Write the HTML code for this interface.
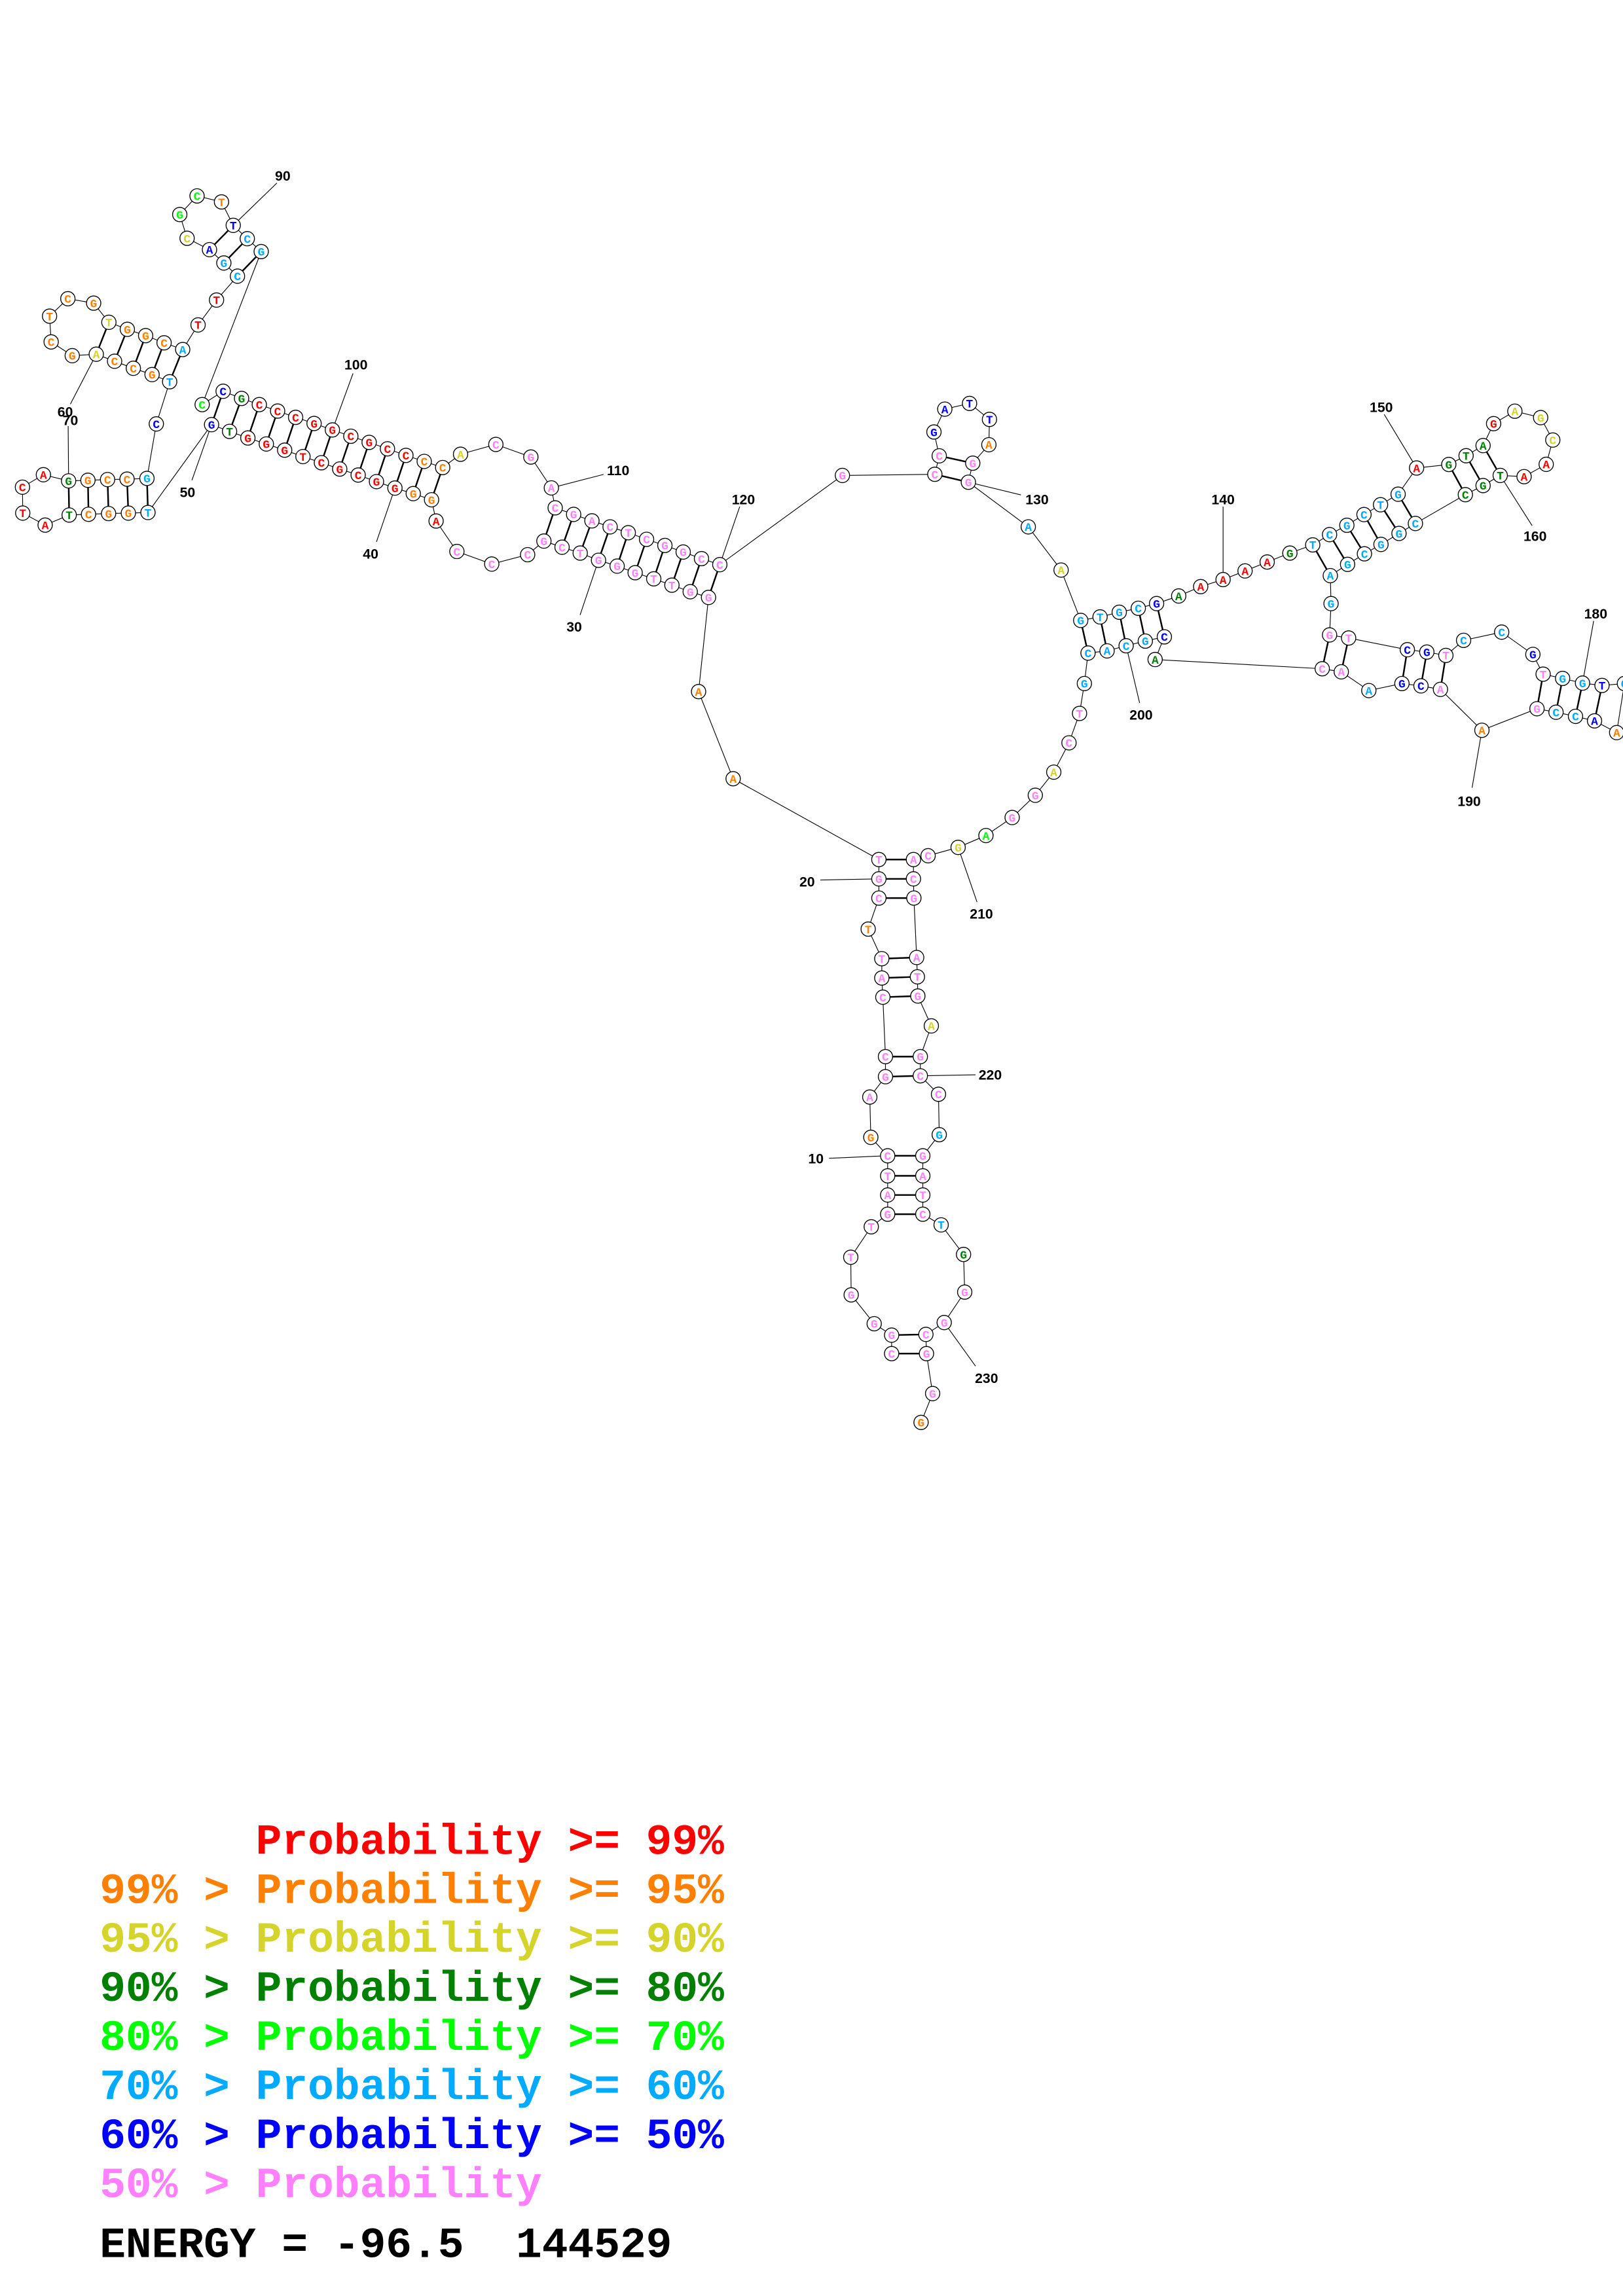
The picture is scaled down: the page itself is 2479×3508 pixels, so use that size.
<!DOCTYPE html>
<html><head><meta charset="utf-8">
<style>
html,body{margin:0;padding:0;background:#fff;}
svg{display:block;}
.lg{font-family:"Liberation Mono",monospace;font-weight:bold;font-size:29.6px;white-space:pre;}
</style></head>
<body>
<svg id="s" xmlns="http://www.w3.org/2000/svg" width="2479" height="3508" viewBox="0 0 1108 1568">
<g id="lines"></g>
<g id="pairs"></g>
<g id="nodes"></g>
<g id="labels" font-family="Liberation Sans, sans-serif" font-weight="bold" font-size="9.5" fill="#000" text-anchor="middle"></g>
<text class="lg" x="68" y="1266" fill="#ff0000" xml:space="preserve">      Probability &gt;= 99%</text>
<text class="lg" x="68" y="1299.5" fill="#ff8000" xml:space="preserve">99% &gt; Probability &gt;= 95%</text>
<text class="lg" x="68" y="1333" fill="#d4d42a" xml:space="preserve">95% &gt; Probability &gt;= 90%</text>
<text class="lg" x="68" y="1366.5" fill="#008000" xml:space="preserve">90% &gt; Probability &gt;= 80%</text>
<text class="lg" x="68" y="1400" fill="#00ff00" xml:space="preserve">80% &gt; Probability &gt;= 70%</text>
<text class="lg" x="68" y="1433.5" fill="#00aaff" xml:space="preserve">70% &gt; Probability &gt;= 60%</text>
<text class="lg" x="68" y="1467" fill="#0000ff" xml:space="preserve">60% &gt; Probability &gt;= 50%</text>
<text class="lg" x="68" y="1500.5" fill="#ff80ff" xml:space="preserve">50% &gt; Probability</text>
<text class="lg" x="68" y="1541.5" fill="#000" xml:space="preserve">ENERGY = -96.5  144529</text>
</svg>
<script>
var C={r:"#ff0000",o:"#ff8000",y:"#d4d42a",g:"#008000",l:"#00ff00",c:"#00aaff",b:"#0000ff",p:"#ff80ff"};
var N=[
[608.7,924.4,"C","p"],[608.7,911.8,"G","p"],[596.8,904,"G","p"],[581.1,884.3,"G","p"],[580.8,858.6,"T","p"],[594.8,837.8,"T","p"],
[606,829.2,"G","p"],[606,816.1,"A","p"],[606,803,"T","p"],[606,789.3,"C","p"],[594.5,776.7,"G","o"],[593.8,749.2,"A","p"],
[604.5,735.3,"G","p"],[604.5,721.6,"C","p"],[602.7,681,"C","p"],[602,667.9,"A","p"],[602,654.7,"T","p"],[592.7,634.5,"T","o"],
[600,613.3,"C","p"],[600,600.2,"G","p"],[600,587,"T","p"],[500.5,531.8,"A","o"],[476.9,472.3,"A","o"],
[483.7,408,"G","p"],[471.2,404.1,"G","p"],[458.7,399.6,"T","p"],[446.3,395.3,"T","p"],[433.6,391.1,"G","p"],[421.3,386.6,"G","p"],[408.6,382.6,"G","p"],[396.1,377.7,"T","p"],[383.7,373.7,"C","p"],[371.3,369.5,"G","p"],
[360.2,378.8,"C","p"],[335.7,385.2,"C","p"],[311.9,376.6,"C","p"],[297.7,355.8,"A","r"],
[294.6,341.3,"G","o"],[282.1,337.1,"G","o"],[269.6,333.3,"G","r"],[257,328.9,"G","r"],[244.5,324.4,"C","r"],[231.9,320.3,"G","r"],[219.4,316,"C","r"],[206.8,311.8,"T","r"],[194.3,307.4,"G","r"],[181.8,303.2,"G","r"],[169.2,299.1,"G","r"],[156.7,294.6,"T","g"],[144.4,290,"G","b"],
[101,350,"T","c"],[87.6,350.4,"G","o"],[74.1,350.7,"G","o"],[60.4,351.2,"C","o"],[47.2,351.7,"T","g"],[30.8,358.6,"A","r"],[15.5,350.4,"T","r"],[15.3,332.7,"C","r"],[29.6,324.2,"A","r"],
[46.8,328.4,"G","g"],[60,328,"G","o"],[73.4,327.5,"C","o"],[86.7,327.2,"C","o"],[100.3,326.7,"G","c"],[106.7,289.5,"C","b"],
[115.8,260.7,"T","c"],[103.8,255.8,"G","o"],[91,251.5,"C","o"],[78.2,246.7,"C","o"],[65.7,241.9,"A","y"],[49.3,242.9,"G","o"],[34.9,233.5,"C","o"],[33.8,215.9,"T","o"],[46.3,204,"C","o"],[63.9,207,"G","o"],[74.3,220.1,"T","y"],[86.9,224.9,"G","o"],[99.4,229.2,"G","o"],[112,234.1,"C","o"],[124.7,238.7,"A","c"],
[135.2,221.9,"T","r"],[147.8,204.9,"T","r"],[162.1,188.6,"C","c"],[152.8,179.6,"G","c"],[143,170.5,"A","b"],[127.7,162.7,"C","y"],[122.7,146.5,"G","l"],[134.5,133.8,"C","l"],[151.2,137.9,"T","o"],[159.2,153.9,"T","b"],[168.8,163,"C","c"],[178.3,171.8,"G","c"],
[138,276.3,"C","l"],[152.3,267.2,"C","b"],[164.9,272.1,"G","g"],[177,276.3,"C","r"],[189.5,280.7,"C","r"],[201.8,285,"C","r"],[214.4,289.2,"G","r"],[226.9,293.6,"G","r"],[239.5,297.9,"C","r"],[252,302.1,"G","r"],[264.5,306.5,"C","r"],[277.1,311,"C","r"],[289.6,315.1,"C","o"],[302.2,319.3,"C","o"],
[314.4,310.2,"A","y"],[338.5,303.5,"C","p"],[362.4,312.1,"G","p"],[376.4,333.2,"A","p"],
[379,346.8,"C","p"],[391.6,351.3,"G","p"],[404.1,355.7,"A","p"],[416.5,359.8,"C","p"],[428.9,363.8,"T","p"],[441.4,368.3,"C","p"],[453.9,372.5,"G","p"],[466.4,377,"G","p"],[478.9,381.5,"C","p"],[491.4,385.6,"C","p"],
[575.1,324.7,"G","p"],[638.2,323.9,"C","p"],[641.2,311.3,"C","p"],[637.6,295,"G","b"],[645,279.4,"A","b"],[661.9,275.5,"T","b"],[675.5,286.4,"T","b"],[675.1,303.7,"A","o"],[664.1,316.3,"G","p"],[661.1,329.3,"G","p"],
[702,359.8,"A","c"],[724.4,389.3,"A","y"],
[737.8,423.7,"G","c"],[751,421.3,"T","c"],[764.1,418.1,"G","c"],[777.1,415.4,"C","c"],[789.6,412.2,"G","b"],
[804.7,407,"A","g"],[819.7,400.6,"A","r"],[835,395.8,"A","r"],[850,389.9,"A","r"],[865.1,383.8,"A","r"],[880.6,377.7,"G","g"],
[896.2,372.1,"T","c"],[907.7,365.1,"C","c"],[919.5,358.7,"G","c"],[931.2,351.4,"C","c"],[942.5,344.7,"T","c"],[954.5,337.5,"G","c"],
[967.1,319.6,"A","r"],[989.1,317.2,"G","g"],[1000.9,311.2,"T","g"],[1012.5,304.3,"A","g"],[1019.7,289.3,"G","r"],[1034.2,280.8,"A","y"],[1051.8,285.2,"G","y"],[1060.1,300.5,"C","y"],[1055.6,317.1,"A","r"],[1040.5,325.5,"A","r"],[1024.2,324.7,"T","g"],[1012.5,331.6,"G","g"],[1000.4,337.8,"C","g"],
[966.3,357.5,"C","c"],[955.1,364.3,"G","c"],[942.8,371.8,"G","c"],[931.5,378.2,"C","c"],[920,385.4,"G","c"],[908.2,393.1,"A","c"],
[908.7,412.2,"G","c"],[907.7,433.6,"G","p"],[920.7,435.7,"T","p"],
[960.8,443.7,"C","b"],[974.1,445.3,"G","b"],[987.1,447.6,"T","p"],[999.2,437.3,"C","c"],[1025.2,431.7,"C","c"],[1046.5,446.9,"G","b"],[1053.5,460.4,"T","p"],[1066.8,463.3,"G","c"],[1080.4,466.5,"G","c"],[1093.7,468.1,"T","b"],[1109,466.8,"C","c"],
[1103.7,500.3,"A","o"],[1088.6,492.3,"A","b"],[1075.6,489.2,"C","c"],[1062.3,486.4,"C","c"],[1049.3,484,"G","p"],[1011.7,498.7,"A","o"],
[983.4,470.8,"A","p"],[970.1,468.4,"C","b"],[957.1,466.8,"G","b"],[934.5,471.6,"A","c"],[915.7,458.8,"A","p"],[902.7,456.7,"C","p"],
[788.6,450.4,"A","g"],[794.9,434.9,"C","b"],[781.9,437.8,"G","c"],[768.8,441,"C","c"],[755.8,444.5,"A","c"],[742.8,446,"C","c"],
[740.3,466.8,"G","c"],[737,487.2,"T","p"],[729.8,507.3,"C","p"],[719.4,527.3,"A","y"],[706.8,543.1,"G","p"],[691,558.3,"G","p"],[673.1,570.6,"A","l"],[654.1,578.7,"G","y"],[633.6,584.4,"C","p"],
[623.6,587,"A","p"],[623.6,600.2,"C","p"],[623.9,613.3,"G","p"],[625.8,653.9,"A","p"],[626.3,667.1,"T","p"],[626.6,680.2,"G","p"],[635.8,700.6,"A","y"],[628.3,721.6,"G","p"],[628.3,734.7,"C","p"],
[640.7,747.3,"C","p"],[641.2,774.9,"G","c"],[630,789.3,"G","p"],[630,803,"A","p"],[630,816.1,"T","p"],[630,829.2,"C","p"],
[642.5,836.5,"T","c"],[657.8,856.7,"G","g"],[658.6,882.4,"G","p"],[644.6,903.2,"G","p"],[632.1,911.3,"C","p"],[632.5,924.4,"G","p"],[636.7,951.7,"G","p"],[628.8,971.4,"G","o"]
];
var P=[
[608.7,924.4,632.5,924.4],[608.7,911.8,632.1,911.3],
[606,829.2,630,829.2],[606,816.1,630,816.1],[606,803,630,803],[606,789.3,630,789.3],
[604.5,735.3,628.3,734.7],[604.5,721.6,628.3,721.6],
[602.7,681,626.6,680.2],[602,667.9,626.3,667.1],[602,654.7,625.8,653.9],
[600,613.3,623.9,613.3],[600,600.2,623.6,600.2],[600,587,623.6,587],
[379,346.8,371.3,369.5],[391.6,351.3,383.7,373.7],[404.1,355.7,396.1,377.7],[416.5,359.8,408.6,382.6],[428.9,363.8,421.3,386.6],[441.4,368.3,433.6,391.1],[453.9,372.5,446.3,395.3],[466.4,377,458.7,399.6],[478.9,381.5,471.2,404.1],[491.4,385.6,483.7,408],
[152.3,267.2,144.4,290],[164.9,272.1,156.7,294.6],[177,276.3,169.2,299.1],[189.5,280.7,181.8,303.2],[201.8,285,194.3,307.4],[214.4,289.2,206.8,311.8],[226.9,293.6,219.4,316],[239.5,297.9,231.9,320.3],[252,302.1,244.5,324.4],[264.5,306.5,257,328.9],[277.1,311,269.6,333.3],[289.6,315.1,282.1,337.1],[302.2,319.3,294.6,341.3],
[46.8,328.4,47.2,351.7],[60,328,60.4,351.2],[73.4,327.5,74.1,350.7],[86.7,327.2,87.6,350.4],[100.3,326.7,101,350],
[74.3,220.1,65.7,241.9],[86.9,224.9,78.2,246.7],[99.4,229.2,91,251.5],[112,234.1,103.8,255.8],[124.7,238.7,115.8,260.7],
[143,170.5,159.2,153.9],[152.8,179.6,168.8,163],[162.1,188.6,178.3,171.8],
[641.2,311.3,664.1,316.3],[638.2,323.9,661.1,329.3],
[737.8,423.7,742.8,446],[751,421.3,755.8,444.5],[764.1,418.1,768.8,441],[777.1,415.4,781.9,437.8],[789.6,412.2,794.9,434.9],
[896.2,372.1,908.2,393.1],[907.7,365.1,920,385.4],[919.5,358.7,931.5,378.2],[931.2,351.4,942.8,371.8],[942.5,344.7,955.1,364.3],[954.5,337.5,966.3,357.5],
[989.1,317.2,1000.4,337.8],[1000.9,311.2,1012.5,331.6],[1012.5,304.3,1024.2,324.7],
[907.7,433.6,902.7,456.7],[920.7,435.7,915.7,458.8],
[960.8,443.7,957.1,466.8],[974.1,445.3,970.1,468.4],[987.1,447.6,983.4,470.8],
[1053.5,460.4,1049.3,484],[1066.8,463.3,1062.3,486.4],[1080.4,466.5,1075.6,489.2],[1093.7,468.1,1088.6,492.3]
];
var L=[
["10",557,791,566,791,606,789.3],["20",551,602,560,601,600,600.2],["30",392,428,396,420,408.6,382.6],["40",253,378,257,370,269.6,333.3],
["50",128,336,131,328,144.4,290],["60",44.5,281,48,276,65.7,241.9],["70",48,287,46.5,291,46.8,328.4],["90",193,120,189,125,159.2,153.9],
["100",243,249,241,255,226.9,293.6],["110",422,321,412,324,376.4,333.2],["120",507.5,341,505,346,491.4,385.6],["130",708,341,697,338,661.1,329.3],
["140",835,341,835,346,835,395.8],["150",943,278,945,283,967.1,319.6],["160",1048,366,1046,359,1024.2,324.7],["180",1089.4,419,1088,424,1080.4,466.5],
["190",1003,547,1005,538,1011.7,498.7],["200",779,488,778,480,768.8,441],["210",670,624,667,616,654.1,578.7],["220",676,734,666,734,628.3,734.7],["230",673.5,941,666,933,644.6,903.2]
];
var ns="http://www.w3.org/2000/svg";
function el(t,a,p){var e=document.createElementNS(ns,t);for(var k in a)e.setAttribute(k,a[k]);p.appendChild(e);return e;}
var gl=document.getElementById("lines"),gp=document.getElementById("pairs"),gn=document.getElementById("nodes"),gt=document.getElementById("labels");
var d="M"+N[0][0]+" "+N[0][1];for(var i=1;i<N.length;i++)d+="L"+N[i][0]+" "+N[i][1];
el("path",{d:d,fill:"none",stroke:"#000","stroke-width":"0.5"},gl);
P.forEach(function(q){el("line",{x1:q[0],y1:q[1],x2:q[2],y2:q[3],stroke:"#000","stroke-width":"1.1"},gp);});
L.forEach(function(q){el("line",{x1:q[3],y1:q[4],x2:q[5],y2:q[6],stroke:"#000","stroke-width":"0.5"},gl);var t=el("text",{x:q[1],y:q[2]+3.4},gt);t.textContent=q[0];});
N.forEach(function(n){el("circle",{cx:n[0],cy:n[1],r:"4.9",fill:"#fff",stroke:"#000","stroke-width":"0.6"},gn);
var t=el("text",{x:n[0],y:n[1]+2.8,fill:C[n[3]],"font-family":"Liberation Mono, monospace","font-weight":"bold","font-size":"8","text-anchor":"middle"},gn);t.textContent=n[2];});
</script>
</body></html>
